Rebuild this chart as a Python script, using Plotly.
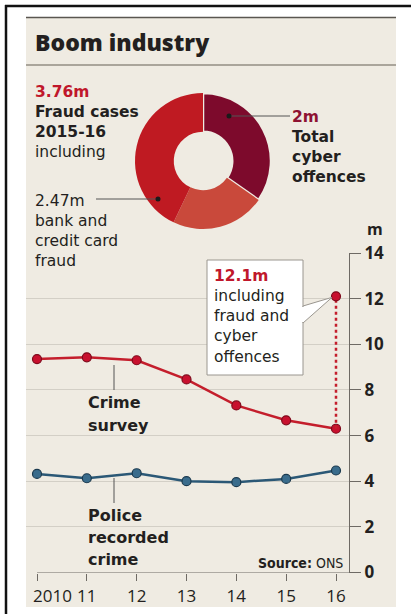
import plotly.graph_objects as go

# ---- data -------------------------------------------------------------
years = [2010, 2011, 2012, 2013, 2014, 2015, 2016]
year_labels = ["2010", "11", "12", "13", "14", "15", "16"]
crime_survey = [9.35, 9.43, 9.3, 8.46, 7.32, 6.67, 6.3]
police_recorded = [4.32, 4.13, 4.35, 4.0, 3.96, 4.1, 4.47]
survey_with_fraud_2016 = 12.1

donut_labels = ["Total cyber offences", "Other fraud", "Bank and credit card fraud"]
donut_values = [2.0, 1.29, 2.47]
fraud_total = 3.76
y_ticks = [0, 2, 4, 6, 8, 10, 12, 14]

# ---- style ------------------------------------------------------------
W, H = 411, 614
FONT = "DejaVu Sans"
TICK_FONT = "Open Sans"
DARK = "#231f20"
RED = "#c0172b"
MAROON = "#8e1232"
PANEL = "#efebe2"
LINE_RED = "#c41e2c"
LINE_BLUE = "#2b5876"


def px(x):
    return x / W


def py(y):
    return 1 - y / H


# plot area in pixels
PLOT_L, PLOT_R = 26, 349
PLOT_T, PLOT_B = 253, 572.5
X2010, X2016 = 37, 336
per_year = (X2016 - X2010) / (years[-1] - years[0])
x_range = [years[0] - (X2010 - PLOT_L) / per_year, years[-1] + (PLOT_R - X2016) / per_year]
y_range = [0, 14]


def data_to_px(xv, yv):
    xp = X2010 + (xv - years[0]) * per_year
    yp = PLOT_B - (yv - y_range[0]) / (y_range[1] - y_range[0]) * (PLOT_B - PLOT_T)
    return xp, yp


fig = go.Figure()

# donut
fig.add_trace(go.Pie(
    labels=donut_labels, values=donut_values, hole=0.43, sort=False,
    direction="clockwise", rotation=0, textinfo="none", hoverinfo="label+value",
    marker=dict(colors=["#7d0a2c", "#c9493b", "#bf1a22"],
                line=dict(color=[PANEL, PANEL, PANEL], width=[2.5, 0, 0])),
    domain=dict(x=[px(203 - 68), px(203 + 68)], y=[py(161 + 68), py(161 - 68)]),
    showlegend=False,
))

# crime survey
fig.add_trace(go.Scatter(
    x=years, y=crime_survey, mode="lines+markers",
    line=dict(color=LINE_RED, width=2.5),
    marker=dict(size=9, color="#c8102e", line=dict(color="#7e0a1c", width=1.2)),
    showlegend=False, name="Crime survey",
))
# 2016 including fraud and cyber
fig.add_trace(go.Scatter(
    x=[years[-1], years[-1]], y=[crime_survey[-1], survey_with_fraud_2016],
    mode="lines", line=dict(color=LINE_RED, width=2.5, dash="dot"),
    showlegend=False, hoverinfo="skip",
))
fig.add_trace(go.Scatter(
    x=[years[-1]], y=[survey_with_fraud_2016], mode="markers",
    marker=dict(size=9, color="#c8102e", line=dict(color="#7e0a1c", width=1.2)),
    showlegend=False, name="Incl. fraud and cyber",
))
# police recorded crime
fig.add_trace(go.Scatter(
    x=years, y=police_recorded, mode="lines+markers",
    line=dict(color=LINE_BLUE, width=2.5),
    marker=dict(size=9, color="#3a6c8c", line=dict(color="#1b3a4f", width=1.2)),
    showlegend=False, name="Police recorded crime",
))

shapes = []
# white surround outside the panel
for (x0, x1, y0, y1) in [(0, 26, 0, H), (396, W, 0, H), (0, W, 0, 17), (0, W, 607, H)]:
    shapes.append(dict(type="rect", xref="paper", yref="paper", x0=px(x0), x1=px(x1),
                       y0=py(y1), y1=py(y0), fillcolor="white", line=dict(width=0)))
shapes.append(dict(type="line", xref="paper", yref="paper", x0=px(26), x1=px(396),
                   y0=py(17.5), y1=py(17.5), line=dict(color="#5a5650", width=1.5)))
shapes.append(dict(type="line", xref="paper", yref="paper", x0=px(26), x1=px(396),
                   y0=py(65), y1=py(65), line=dict(color="#aaa59b", width=2)))
shapes.append(dict(type="line", xref="paper", yref="paper", x0=px(6), x1=px(6),
                   y0=0, y1=py(5), line=dict(color="#111", width=2.5)))
shapes.append(dict(type="line", xref="paper", yref="paper", x0=px(5), x1=1,
                   y0=py(6), y1=py(6), line=dict(color="#111", width=2.5)))

# x axis baseline
shapes.append(dict(type="line", xref="x", yref="y", x0=years[0], x1=x_range[1],
                   y0=0, y1=0, line=dict(color="#6e6a64", width=1)))

# donut leader lines and dots
for (x0, x1, yy) in [(96, 158, 199), (229, 290, 116)]:
    shapes.append(dict(type="line", xref="paper", yref="paper", x0=px(x0), x1=px(x1),
                       y0=py(yy), y1=py(yy), line=dict(color="#555", width=1)))
for (cx, cy) in [(158, 199), (229, 116)]:
    shapes.append(dict(type="circle", xref="paper", yref="paper", x0=px(cx - 2.5), x1=px(cx + 2.5),
                       y0=py(cy + 2.5), y1=py(cy - 2.5), fillcolor="#1a1a1a", line=dict(width=0)))

# series label leaders
for (x, y0, y1) in [(114, 365, 390), (114, 478, 503)]:
    shapes.append(dict(type="line", xref="paper", yref="paper", x0=px(x), x1=px(x),
                       y0=py(y0), y1=py(y1), line=dict(color="#555", width=1)))

# callout box with pointer to the 2016 total
tip_x, tip_y = data_to_px(years[-1], survey_with_fraud_2016)
shapes.append(dict(type="rect", xref="paper", yref="paper", x0=px(207), x1=px(303),
                   y0=py(375), y1=py(260), fillcolor="white", line=dict(color="#9a968f", width=1)))
shapes.append(dict(type="path", xref="paper", yref="paper",
                   path=f"M {px(303)},{py(306)} L {px(tip_x - 4)},{py(tip_y + 1)} L {px(303)},{py(323)} Z",
                   fillcolor="white", line=dict(color="#9a968f", width=1)))
shapes.append(dict(type="line", xref="paper", yref="paper", x0=px(303), x1=px(303),
                   y0=py(307), y1=py(322), line=dict(color="white", width=2)))

annotations = []


def label(x, y, text, size=16, color=DARK, weight="normal", xanchor="left", family=FONT):
    annotations.append(dict(x=px(x), y=py(y), xref="paper", yref="paper", text=text,
                            showarrow=False, xanchor=xanchor, yanchor="middle", align="left",
                            borderpad=0, font=dict(family=family, size=size, color=color, weight=weight)))


def block(x, y_first, y_last, lines, size=15.5):
    label(x, (y_first + y_last) / 2, "<br>".join(lines), size=size)


def red(t, c=RED):
    return f"<span style='color:{c}'><b>{t}</b></span>"


label(34, 42, "Boom industry", size=23, weight=800, family="Open Sans")

block(34, 92, 153, [red(f"{fraud_total:.2f}m"), "<b>Fraud cases</b>", "<b>2015-16</b>", "including"])
block(34, 200, 262, [f"{donut_values[2]:.2f}m", "bank and", "credit card", "fraud"])
block(291, 117, 177, [red(f"{donut_values[0]:g}m", MAROON), "<b>Total</b>", "<b>cyber</b>", "<b>offences</b>"])
block(213, 275, 357, [red(f"{survey_with_fraud_2016:g}m"), "including", "fraud and", "cyber", "offences"])

for txt, yy in [("Crime", 402), ("survey", 425), ("Police", 515), ("recorded", 537), ("crime", 559)]:
    label(87, yy, txt, size=16, weight="bold")

label(344, 563, "<b>Source:</b> ONS", size=14, xanchor="right",
      family="Liberation Sans Narrow, DejaVu Sans Condensed, Open Sans")
label(366, 229, "m", size=16, weight="bold", family=TICK_FONT)

# first year label sits to the right of its tick, inside the panel
label(32, 595, year_labels[0], size=17, family=TICK_FONT)
tick_text = [""] + year_labels[1:]

fig.update_layout(
    width=W, height=H, autosize=False,
    margin=dict(l=0, r=0, t=0, b=0, pad=0, autoexpand=False),
    paper_bgcolor=PANEL, plot_bgcolor="rgba(0,0,0,0)",
    shapes=shapes, annotations=annotations,
    xaxis=dict(domain=[px(PLOT_L), px(PLOT_R)], range=x_range, tickvals=years, ticktext=tick_text,
               showgrid=False, zeroline=False, showline=False, ticks="outside", ticklen=7,
               tickcolor="#6e6a64", tickwidth=1, ticklabelstandoff=1, automargin=False,
               tickfont=dict(family=TICK_FONT, size=17, color=DARK), fixedrange=True),
    yaxis=dict(domain=[py(PLOT_B), py(PLOT_T)], range=y_range, tickvals=y_ticks, side="right",
               showgrid=True, gridcolor="#d3cfc6", gridwidth=1, zeroline=False,
               showline=True, linecolor="#6e6a64", linewidth=1, automargin=False,
               ticks="outside", ticklen=11, tickcolor="#6e6a64", tickwidth=1,
               tickfont=dict(family=TICK_FONT, size=17, color=DARK, weight="bold"), fixedrange=True),
)

fig.write_html("out.html", config={"displayModeBar": False})
